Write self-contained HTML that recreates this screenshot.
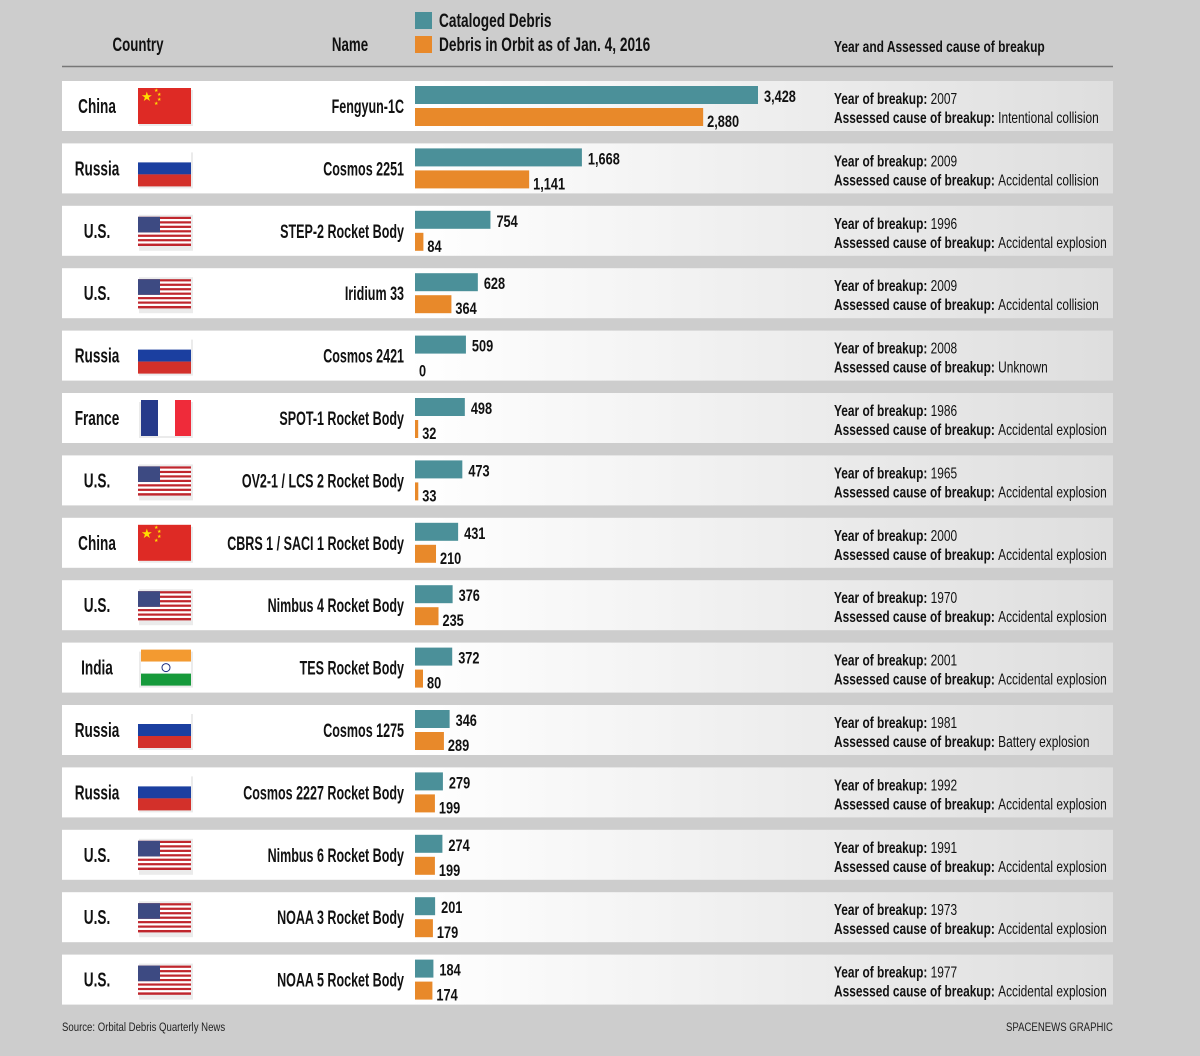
<!DOCTYPE html>
<html><head><meta charset="utf-8">
<style>
html,body{margin:0;padding:0;background:#cdcdcd;}
svg{display:block;font-family:"Liberation Sans Narrow","Liberation Sans",sans-serif;}
.b{font-weight:bold;fill:#111;}
</style></head>
<body>
<svg id="chart" width="1200" height="1056" viewBox="0 0 1200 1056" xmlns="http://www.w3.org/2000/svg">
<defs>
<linearGradient id="rowgrad" x1="0" x2="1" y1="0" y2="0">
<stop offset="0" stop-color="#ffffff"/><stop offset="0.33" stop-color="#ffffff"/><stop offset="1" stop-color="#dedede"/>
</linearGradient>
</defs>
<rect width="1200" height="1056" fill="#cdcdcd"/>
<g>
<text class="b" transform="translate(138,51) scale(0.7,1)" font-size="19" text-anchor="middle">Country</text>
<text class="b" transform="translate(350,51) scale(0.7,1)" font-size="19" text-anchor="middle">Name</text>
<rect x="415" y="12" width="17" height="17" fill="#4b9099"/>
<text class="b" transform="translate(439,27) scale(0.72,1)" font-size="19">Cataloged Debris</text>
<rect x="415" y="36" width="17" height="17" fill="#e8892a"/>
<text class="b" transform="translate(439,51) scale(0.72,1)" font-size="19">Debris in Orbit as of Jan. 4, 2016</text>
<text class="b" transform="translate(834,52) scale(0.75,1)" font-size="16">Year and Assessed cause of breakup</text>
<line x1="62" x2="1113" y1="66.5" y2="66.5" stroke="#777" stroke-width="1.5"/>
</g>
<g id="rows"></g>
<text transform="translate(62,1031) scale(0.8,1)" font-size="12" fill="#222">Source: Orbital Debris Quarterly News</text>
<text transform="translate(1113,1031) scale(0.8,1)" font-size="12" fill="#222" text-anchor="end">SPACENEWS GRAPHIC</text>
</svg>
<script>
const countries=["China","Russia","U.S.","U.S.","Russia","France","U.S.","China","U.S.","India","Russia","Russia","U.S.","U.S.","U.S."];
const names=["Fengyun-1C","Cosmos 2251","STEP-2 Rocket Body","Iridium 33","Cosmos 2421","SPOT-1 Rocket Body","OV2-1 / LCS 2 Rocket Body","CBRS 1 / SACI 1 Rocket Body","Nimbus 4 Rocket Body","TES Rocket Body","Cosmos 1275","Cosmos 2227 Rocket Body","Nimbus 6 Rocket Body","NOAA 3 Rocket Body","NOAA 5 Rocket Body"];
const cataloged=[3428,1668,754,628,509,498,473,431,376,372,346,279,274,201,184];
const inOrbit=[2880,1141,84,364,0,32,33,210,235,80,289,199,199,179,174];
const years=["2007","2009","1996","2009","2008","1986","1965","2000","1970","2001","1981","1992","1991","1973","1977"];
const causes=["Intentional collision","Accidental collision","Accidental explosion","Accidental collision","Unknown","Accidental explosion","Accidental explosion","Accidental explosion","Accidental explosion","Accidental explosion","Battery explosion","Accidental explosion","Accidental explosion","Accidental explosion","Accidental explosion"];

const NS="http://www.w3.org/2000/svg";
const x0=415, scale=343/3428;
const xS=v=>x0+v*scale;
const rowY=i=>81+i*62.4;
function el(tag,attrs,parent,txt){const e=document.createElementNS(NS,tag);for(const k in attrs)e.setAttribute(k,attrs[k]);if(txt!==undefined)e.textContent=txt;parent.appendChild(e);return e;}
function st(parent,x,y,size,sx,anchor,cls,content){return el("text",{class:cls||"",transform:`translate(${x},${y}) scale(${sx},1)`,"font-size":size,"text-anchor":anchor,fill:"#111"},parent,content);}
const fmt=v=>v.toLocaleString("en-US");
function flag(g,c,y){
  el("rect",{x:139,y:y+9,width:54,height:36,fill:"#000",opacity:0.08},g);
  if(c==="China"){el("rect",{x:138,y:y+7,width:53,height:36,fill:"#de2a25"},g);
    el("text",{x:141,y:y+20,"font-size":13,fill:"#ffde00"},g,"★");
    [[154,y+11],[157,y+15],[157,y+20],[154,y+24]].forEach(p=>el("text",{x:p[0],y:p[1],"font-size":5,fill:"#ffde00"},g,"★"));}
  else if(c==="Russia"){el("rect",{x:138,y:y+7,width:53,height:12,fill:"#fff"},g);el("rect",{x:138,y:y+19,width:53,height:12,fill:"#1b3fa0"},g);el("rect",{x:138,y:y+31,width:53,height:12,fill:"#d3302a"},g);}
  else if(c==="France"){el("rect",{x:141,y:y+7,width:17,height:36,fill:"#263a8a"},g);el("rect",{x:158,y:y+7,width:17,height:36,fill:"#fff"},g);el("rect",{x:175,y:y+7,width:16,height:36,fill:"#ef2b3a"},g);}
  else if(c==="India"){el("rect",{x:141,y:y+7,width:50,height:12,fill:"#f39a30"},g);el("rect",{x:141,y:y+19,width:50,height:12,fill:"#fff"},g);el("rect",{x:141,y:y+31,width:50,height:12,fill:"#169a3b"},g);el("circle",{cx:166,cy:y+25,r:4,fill:"none",stroke:"#1b2b7e","stroke-width":1},g);}
  else {const fy=y+11,h=29;for(let k=0;k<13;k++)el("rect",{x:138,y:fy+k*h/13,width:53,height:h/13+0.2,fill:k%2?"#fff":"#c0262d"},g);
    el("rect",{x:138,y:fy,width:22,height:h*7/13,fill:"#3d4a82"},g);}
}
const root=document.getElementById("rows");
countries.forEach((c,i)=>{
  const y=rowY(i);
  const g=el("g",{},root);
  
  
  const bg=el("rect",{x:62,y:y,width:1051,height:50,fill:"url(#rowgrad)"},g);
  
  
  const ct=st(g,97,y+32,20,0.68,"middle","b",c);
  
  
  const fg=el("g",{},g);
  
  
  flag(fg,c,y);
  const nt=st(g,404,y+32,19,0.66,"end","b",names[i]);
  
  
  const b1=el("rect",{x:x0,y:y+5,width:Math.max(0,xS(cataloged[i])-x0),height:18,fill:"#4b9099"},g);
  
  
  const l1=st(g,xS(cataloged[i])+6,y+21,17,0.75,"start","b",fmt(cataloged[i]));
  
  
  const b2=el("rect",{x:x0,y:y+27,width:Math.max(0,xS(inOrbit[i])-x0),height:18,fill:"#e8892a"},g);
  
  
  const l2=st(g,xS(inOrbit[i])+4,y+46,17,0.75,"start","b",fmt(inOrbit[i]));
  
  
  const t1=st(g,834,y+23,16,0.745,"start","","");
  
  
  el("tspan",{"font-weight":"bold"},t1,"Year of breakup: ");
  el("tspan",{},t1,years[i]);
  const t2=st(g,834,y+42,16,0.745,"start","","");
  
  
  el("tspan",{"font-weight":"bold"},t2,"Assessed cause of breakup: ");
  el("tspan",{},t2,causes[i]);
});
</script>
</body></html>
